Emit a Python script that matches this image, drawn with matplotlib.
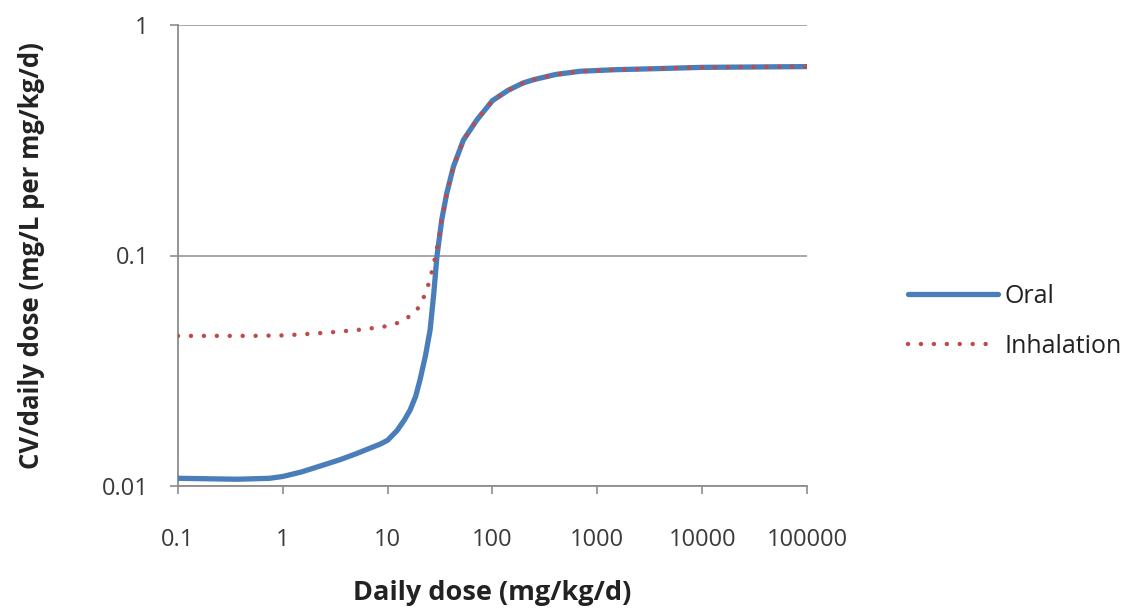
import matplotlib
matplotlib.use("Agg")
import matplotlib.pyplot as plt
from matplotlib.ticker import FixedLocator, FixedFormatter, NullLocator

# ---- data ----
oral_dose = [0.1, 0.37, 0.75, 1.0, 1.5, 2.26, 3.5, 5.0, 6.8, 8.5, 10.0, 12.3, 14.5, 16.4,
             18.5, 20.4, 23.0, 25.4, 27.5, 29.5, 32.8, 36.6, 42.4, 52.8, 70.8, 100.0,
             140.0, 195.0, 250.0, 400.0, 686.0, 1500.0, 3000.0, 10000.0, 100000.0]
oral_cv = [0.0108, 0.0107, 0.0108, 0.0110, 0.0115, 0.0122, 0.0130, 0.0138, 0.0146,
           0.0152, 0.0158, 0.0174, 0.0194, 0.0214, 0.0245, 0.0290, 0.0370, 0.0475,
           0.0680, 0.0990, 0.1430, 0.1860, 0.2430, 0.3170, 0.3870, 0.4700, 0.5200,
           0.5600, 0.5800, 0.6100, 0.6300, 0.6400, 0.6450, 0.6550, 0.6600]

inh_dose = [0.1, 0.5, 1.0, 1.55, 3.0, 5.1, 9.0, 12.5, 15.3, 19.0, 21.5, 23.8, 27.1,
            30.2, 32.8, 36.6, 42.4, 52.8, 70.8, 100.0, 140.0, 195.0, 250.0, 400.0,
            686.0, 1500.0, 3000.0, 10000.0, 100000.0]
inh_cv = [0.0448, 0.0448, 0.0450, 0.0455, 0.0465, 0.0475, 0.0490, 0.0510, 0.0535,
          0.0580, 0.0640, 0.0716, 0.0890, 0.1130, 0.1430, 0.1860, 0.2430, 0.3170,
          0.3870, 0.4700, 0.5200, 0.5600, 0.5800, 0.6100, 0.6300, 0.6400, 0.6450,
          0.6550, 0.6600]

x_ticks = [0.1, 1, 10, 100, 1000, 10000, 100000]
x_labels = ["0.1", "1", "10", "100", "1000", "10000", "100000"]
y_ticks = [0.01, 0.1, 1]
y_labels = ["0.01", "0.1", "1"]

plt.rcParams['font.family'] = ['Open Sans', 'DejaVu Sans']

fig = plt.figure(figsize=(11.46, 6.11), dpi=100)
ax = fig.add_axes([178/1146, 1 - 486/611, (807-178)/1146, (486-25)/611])

ax.set_xscale('log')
ax.set_yscale('log')
ax.set_xlim(0.1, 100000)
ax.set_ylim(0.01, 1)

ax.plot(oral_dose, oral_cv, color='#4A7EBB', lw=3.8, solid_capstyle='round',
        label='Oral', zorder=3)
ax.plot(inh_dose, inh_cv, color='#BE4B48', lw=3.2, linestyle=(0, (0.01, 2.9)),
        dash_capstyle='round', label='Inhalation', zorder=4)

ax.xaxis.set_major_locator(FixedLocator(x_ticks))
ax.xaxis.set_major_formatter(FixedFormatter(x_labels))
ax.xaxis.set_minor_locator(NullLocator())
ax.yaxis.set_major_locator(FixedLocator(y_ticks))
ax.yaxis.set_major_formatter(FixedFormatter(y_labels))
ax.yaxis.set_minor_locator(NullLocator())

ax.grid(axis='y', which='major', color='#A0A0A0', lw=1.3)
ax.set_axisbelow(True)
for s in ['top', 'right']:
    ax.spines[s].set_visible(False)
for s in ['left', 'bottom']:
    ax.spines[s].set_color('#8C8C8C')
    ax.spines[s].set_linewidth(1.3)

ax.tick_params(axis='both', which='major', length=6, width=1.2, color='#8C8C8C',
               labelsize=17, labelcolor='#3A3A3A', direction='out')
ax.tick_params(axis='x', pad=24)
ax.tick_params(axis='y', pad=15)

ax.set_xlabel('Daily dose (mg/kg/d)', fontsize=19.5, fontweight='bold',
              color='#222222')
ax.set_ylabel('CV/daily dose (mg/L per mg/kg/d)', fontsize=18.5, fontweight='bold',
              color='#222222')
ax.xaxis.set_label_coords(0.5, -(580 - 486) / 461)
ax.yaxis.set_label_coords((45 - 178) / 629, 0.5)

leg = fig.legend(loc='center left', bbox_to_anchor=(0.773, 0.4746), frameon=False,
                 fontsize=18, handlelength=3.6, handletextpad=0.24,
                 labelspacing=1.0)
for t in leg.get_texts():
    t.set_color('#222222')

fig.savefig('out.png', dpi=100)
